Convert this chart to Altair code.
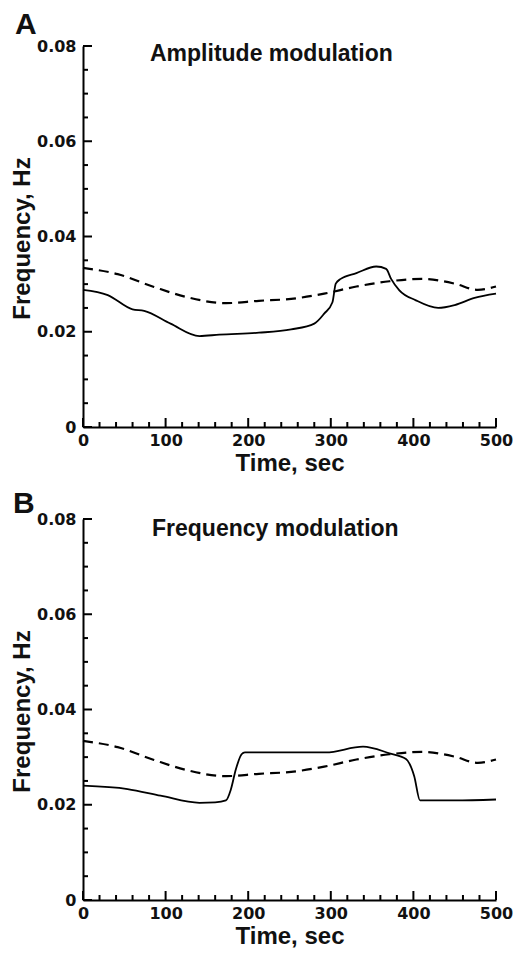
import altair as alt
import pandas as pd

# Reference (dashed) curve, same in both panels
time_dashed = [0, 42, 86, 125, 173, 213, 252, 292, 331, 371, 410, 450, 478, 500]
freq_dashed = [0.0334, 0.0321, 0.0294, 0.0273, 0.0260, 0.0265, 0.0269, 0.0280, 0.0295, 0.0306, 0.0311, 0.0301, 0.0288, 0.0295]

# Panel A solid curve (amplitude modulation)
time_am = [0, 30, 60, 74, 106, 141, 165, 213, 252, 280, 292, 302, 306, 312, 331, 355, 367, 373, 383, 403, 430, 450, 474, 500]
freq_am = [0.0288, 0.0277, 0.0247, 0.0244, 0.0217, 0.0191, 0.0194, 0.0198, 0.0205, 0.0217, 0.0238, 0.0262, 0.0301, 0.0311,
           0.0323, 0.0337, 0.0332, 0.0311, 0.0287, 0.0266, 0.0250, 0.0256, 0.0271, 0.0280]

# Panel B solid curve (frequency modulation)
time_fm = [0, 54, 94, 141, 160, 173, 179, 185, 192, 196, 294, 339, 371, 391, 401, 408, 450, 500]
freq_fm = [0.0240, 0.0233, 0.0219, 0.0204, 0.0205, 0.0209, 0.0232, 0.0274, 0.0306, 0.0310, 0.0310, 0.0322, 0.0308,
           0.0296, 0.0260, 0.0209, 0.0209, 0.0211]

x_major = [0, 100, 200, 300, 400, 500]
x_minor = [20, 40, 60, 80, 120, 140, 160, 180, 220, 240, 260, 280, 320, 340, 360, 380, 420, 440, 460, 480]
y_major = [0, 0.02, 0.04, 0.06, 0.08]
y_minor = [0.005, 0.01, 0.015, 0.025, 0.03, 0.035, 0.045, 0.05, 0.055, 0.065, 0.07, 0.075]

W, H = 413, 381
NUM_FONT = "DejaVu Sans"
TXT_FONT = "Liberation Sans"

x_scale = alt.Scale(domain=[0, 500], nice=False, zero=False)
y_scale = alt.Scale(domain=[0, 0.08], nice=False, zero=True)

x_axis = alt.Axis(values=x_major, ticks=False, grid=False, labelPadding=5, labelFlush=False,
                  labelOverlap=False, format="d", title="Time, sec", titlePadding=3)
y_axis = alt.Axis(values=y_major, ticks=False, grid=False, labelPadding=7, labelOverlap=False,
                  labelExpr="datum.value == 0 ? '0' : format(datum.value, '.2f')",
                  title=None)


def xenc():
    return alt.X("t:Q", scale=x_scale, axis=x_axis)


def yenc():
    return alt.Y("f:Q", scale=y_scale, axis=y_axis)


def txt(s, x, y, size, angle=0, align="left"):
    return alt.Chart(pd.DataFrame({"s": [s]})).mark_text(
        align=align, baseline="alphabetic", font=TXT_FONT, fontWeight="bold", fontSize=size,
        color="#111", angle=angle
    ).encode(x=alt.value(x), y=alt.value(y), text="s:N")


def panel(st, sf, title, title_x, title_y, letter, letter_x, letter_y):
    solid = alt.Chart(pd.DataFrame({"t": st, "f": sf})).mark_line(
        color="black", strokeWidth=1.8, interpolate="monotone"
    ).encode(x=xenc(), y=yenc())
    dashed = alt.Chart(pd.DataFrame({"t": time_dashed, "f": freq_dashed})).mark_line(
        color="black", strokeWidth=2.2, strokeDash=[10, 6], interpolate="monotone"
    ).encode(x=xenc(), y=yenc())
    xmaj = alt.Chart(pd.DataFrame({"t": x_major})).mark_rule(color="black", strokeWidth=2).encode(
        x=xenc(), y=alt.value(H), y2=alt.value(H - 9))
    xmin = alt.Chart(pd.DataFrame({"t": x_minor})).mark_rule(color="black", strokeWidth=2).encode(
        x=xenc(), y=alt.value(H), y2=alt.value(H - 5))
    ymaj = alt.Chart(pd.DataFrame({"f": y_major})).mark_rule(color="black", strokeWidth=2).encode(
        y=yenc(), x=alt.value(0), x2=alt.value(9))
    ymin = alt.Chart(pd.DataFrame({"f": y_minor})).mark_rule(color="black", strokeWidth=2).encode(
        y=yenc(), x=alt.value(0), x2=alt.value(5))
    ttl = txt(title, title_x, title_y, 23)
    let = txt(letter, letter_x, letter_y, 30)
    ytitle = txt("Frequency, Hz", -53, H / 2 + 2, 24, angle=270, align="center")
    return alt.layer(ymin, ymaj, xmin, xmaj, dashed, solid, ttl, let, ytitle).properties(width=W, height=H)


pA = panel(time_am, freq_am, "Amplitude modulation", 67, 15, "A", -68, -12)
pB = panel(time_fm, freq_fm, "Frequency modulation", 69, 17, "B", -70, -6)

chart = alt.vconcat(pA, pB, spacing=14).properties(
    padding={"left": 3, "top": 2, "right": 0, "bottom": 0}
).configure_view(stroke=None).configure_axis(
    domainColor="black", domainWidth=2,
    labelFont=NUM_FONT, labelFontWeight="bold", labelFontSize=16, labelColor="#111",
    titleFont=TXT_FONT, titleFontWeight="bold", titleFontSize=24, titleColor="#111"
)

chart.save("out.html", embed_options={"renderer": "svg", "actions": False})
